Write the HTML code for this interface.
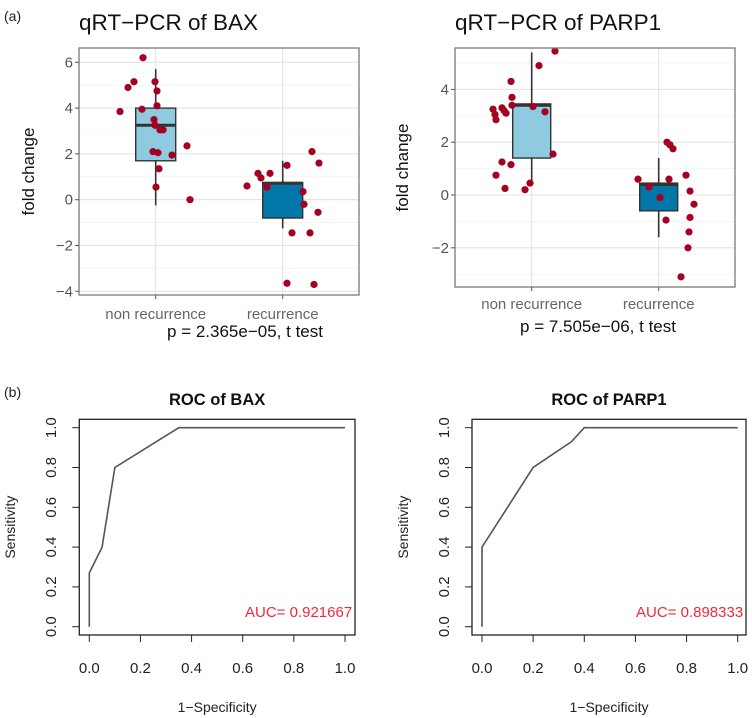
<!DOCTYPE html>
<html><head><meta charset="utf-8"><style>
html,body{margin:0;padding:0;background:#fff;}
svg{display:block;font-family:"Liberation Sans",Arial,sans-serif;}
</style></head><body>
<svg id="fig" width="752" height="718" viewBox="0 0 752 718" xmlns="http://www.w3.org/2000/svg">
<text x="4" y="21" font-size="14" fill="#222">(a)</text>
<text x="4" y="397" font-size="14" fill="#222">(b)</text>
<g id="bax"></g>
<g id="parp"></g>
<g id="rocbax"></g>
<g id="rocparp"></g>
</svg>
<script>
const categories = ["non recurrence","recurrence"];
// BAX box stats: [whiskerLow, q1, median, q3, whiskerHigh]
const baxStats = [[-0.25,1.7,3.25,4.0,5.7],[-1.25,-0.8,0.72,0.75,1.7]];
const baxNonX = [143,128,134,155,157,120,142,157,154,155,160,163,187,153,158,172,159,156,190];
const baxNonY = [6.2,4.9,5.15,5.15,4.75,3.85,3.95,4.1,3.5,3.25,3.05,3.05,2.35,2.1,2.05,1.95,1.35,0.55,0];
const baxRecX = [247,258,261,270,267,287,312,319,303,304,318,292,310,287,314];
const baxRecY = [0.6,1.15,0.95,1.15,0.55,1.5,2.1,1.6,0.35,-0.2,-0.55,-1.45,-1.45,-3.65,-3.7];
const baxTicks = [-4,-2,0,2,4,6];
const parpStats = [[0.5,1.4,3.4,3.45,5.4],[-1.6,-0.6,0.4,0.45,1.4]];
const parpNonX = [555,539,511,512,512,493,502,504,506,495,496,533,545,553,502,511,496,505,525,530];
const parpNonY = [5.45,4.9,4.3,3.7,3.4,3.25,3.3,3.2,3.1,3.05,2.85,3.35,3.15,1.55,1.25,1.15,0.75,0.25,0.2,0.45];
const parpRecX = [638,649,660,669,667,670,673,686,690,694,690,666,689,688,681];
const parpRecY = [0.6,0.3,-0.1,0.6,2.0,1.9,1.75,0.75,0.15,-0.35,-0.85,-0.95,-1.4,-2.0,-3.1];
const parpTicks = [-2,0,2,4];
const rocTicks = [0,0.2,0.4,0.6,0.8,1.0];
const rocBaxFpr = [0,0,0.05,0.1,0.35,1];
const rocBaxTpr = [0,0.27,0.4,0.8,1,1];
const rocParpFpr = [0,0,0.2,0.35,0.4,1];
const rocParpTpr = [0,0.4,0.8,0.93,1,1];

const NS="http://www.w3.org/2000/svg";
function mk(parent,tag,attrs,text){const e=document.createElementNS(NS,tag);for(const k in attrs)e.setAttribute(k,attrs[k]);if(text!==undefined)e.textContent=text;parent.appendChild(e);return e;}

function boxPanel(g,o){
  const y=v=>o.y0-v*o.ppu;
  let r=mk(g,'rect',{x:o.L,y:o.T,width:o.R-o.L,height:o.B-o.T,fill:'#fff'});
  
  
  for(let v=Math.ceil(o.min);v<=o.max;v++){if(y(v)<o.T||y(v)>o.B)continue;
    const l=mk(g,'line',{x1:o.L,x2:o.R,y1:y(v),y2:y(v),stroke:v%2===0?'#e3e3e3':'#efefef','stroke-width':v%2===0?1.1:0.6});
    
    }
  o.cx.forEach(cx=>{const l=mk(g,'line',{x1:cx,x2:cx,y1:o.T,y2:o.B,stroke:'#e3e3e3','stroke-width':1.1});
    
    });
  const fills=['#8ecbe0','#0077a8'];
  o.stats.forEach((s,i)=>{const cx=o.cx[i];
    const w=mk(g,'line',{x1:cx,x2:cx,y1:y(s[0]),y2:y(s[4]),stroke:'#333','stroke-width':1.6});
    
    
    const b=mk(g,'rect',{x:cx-o.bw/2,y:y(s[3]),width:o.bw,height:y(s[1])-y(s[3]),fill:fills[i],stroke:'#333','stroke-width':1.4});
    
    
    const m=mk(g,'line',{x1:cx-o.bw/2,x2:cx+o.bw/2,y1:y(s[2]),y2:y(s[2]),stroke:'#333','stroke-width':3});
    
    
  });
  [[o.nx,o.ny],[o.rx,o.ry]].forEach(([xs,ys],gi)=>{xs.forEach((px,k)=>{
    const c=mk(g,'circle',{cx:px,cy:y(ys[k]),r:3.6,fill:'#a50021'});
    
    });});
  const bd=mk(g,'rect',{x:o.L,y:o.T,width:o.R-o.L,height:o.B-o.T,fill:'none',stroke:'#7a7a7a','stroke-width':1.3});
  
  
  o.ticks.forEach(v=>{mk(g,'line',{x1:o.L-4,x2:o.L,y1:y(v),y2:y(v),stroke:'#555'});
    const t=mk(g,'text',{x:o.L-6,y:y(v)+5,'font-size':15,fill:'#555','text-anchor':'end'},String(v).replace('-','\u2212'));
    
    });
  o.cx.forEach((cx,i)=>{mk(g,'line',{x1:cx,x2:cx,y1:o.B,y2:o.B+4,stroke:'#555'});
    const t=mk(g,'text',{x:cx,y:o.catY,'font-size':15,fill:'#666','text-anchor':'middle'},categories[i]);
    
    });
  let t=mk(g,'text',{x:o.L,y:30,'font-size':22.5,fill:'#111'},o.title);
  
  
  t=mk(g,'text',{x:0,y:0,'font-size':17,fill:'#111','text-anchor':'middle',transform:`translate(${o.ylx},${(o.T+o.B)/2}) rotate(-90)`},'fold change');
  
  
  t=mk(g,'text',{x:o.pX,y:o.pY,'font-size':17,fill:'#111','text-anchor':'middle'},o.p);
  
  
}
boxPanel(document.getElementById('bax'),{L:79,R:359,T:48,B:295,y0:199.7,ppu:22.9,min:-4.3,max:6.8,cx:[155.7,282.7],bw:40,stats:baxStats,
  nx:baxNonX,ny:baxNonY,rx:baxRecX,ry:baxRecY,ticks:baxTicks,catY:319,title:'qRT\u2212PCR of BAX',ylx:34,p:'p = 2.365e\u221205, t test',pX:245,pY:337});
boxPanel(document.getElementById('parp'),{L:455,R:735,T:48,B:287,y0:195,ppu:26.4,min:-3.5,max:5.9,cx:[531.7,658.7],bw:38,stats:parpStats,
  nx:parpNonX,ny:parpNonY,rx:parpRecX,ry:parpRecY,ticks:parpTicks,catY:309,title:'qRT\u2212PCR of PARP1',ylx:408,p:'p = 7.505e\u221206, t test',pX:598,pY:332});

function rocPanel(g,o){
  const x=v=>o.x0+v*(o.x1-o.x0), y=v=>o.y0-v*(o.y0-o.y1);
  const cid='clip'+o.id;
  const cp=mk(g,'clipPath',{id:cid});mk(cp,'rect',{x:o.L,y:o.T,width:o.R-o.L,height:o.B-o.T});
  let t=mk(g,'text',{x:(o.L+o.R)/2,y:405,'font-size':16.5,'font-weight':'bold',fill:'#111','text-anchor':'middle'},o.title);
  
  
  const pts=o.fx.map((f,i)=>x(f)+','+y(o.ty[i])).join(' ');
  const pl=mk(g,'polyline',{points:pts,fill:'none',stroke:'#555','stroke-width':1.6});
  
  
  const bd=mk(g,'rect',{x:o.L,y:o.T,width:o.R-o.L,height:o.B-o.T,fill:'none',stroke:'#222','stroke-width':1.3});
  
  
  rocTicks.forEach(v=>{
    mk(g,'line',{x1:x(v),x2:x(v),y1:o.B,y2:o.B+7,stroke:'#222'});
    mk(g,'line',{x1:o.L-7,x2:o.L,y1:y(v),y2:y(v),stroke:'#222'});
    let a=mk(g,'text',{x:x(v),y:673,'font-size':15,fill:'#222','text-anchor':'middle'},v.toFixed(1));
    
    
    a=mk(g,'text',{x:0,y:0,'font-size':15,fill:'#222','text-anchor':'middle',transform:`translate(${o.ytx},${y(v)}) rotate(-90)`},v.toFixed(1));
    
    
  });
  t=mk(g,'text',{x:(o.L+o.R)/2,y:712,'font-size':14,fill:'#222','text-anchor':'middle'},'1\u2212Specificity');
  
  
  t=mk(g,'text',{x:0,y:0,'font-size':14,fill:'#222','text-anchor':'middle',transform:`translate(${o.ylx},${(o.T+o.B)/2}) rotate(-90)`},'Sensitivity');
  
  
  t=mk(g,'text',{x:o.aucX,y:617,'font-size':15,fill:'#ee2a3a','clip-path':`url(#${cid})`},o.auc);
  
  
}
rocPanel(document.getElementById('rocbax'),{id:'b',L:79.3,R:355,T:419.3,B:635,x0:89.3,x1:345,y0:626.7,y1:427.7,fx:rocBaxFpr,ty:rocBaxTpr,
  title:'ROC of BAX',ytx:56,ylx:15,aucX:245,auc:'AUC= 0.921667'});
rocPanel(document.getElementById('rocparp'),{id:'p',L:472,R:746,T:419.3,B:635,x0:482,x1:737.7,y0:626.7,y1:427.7,fx:rocParpFpr,ty:rocParpTpr,
  title:'ROC of PARP1',ytx:449,ylx:408,aucX:636,auc:'AUC= 0.898333'});
</script>
</body></html>
